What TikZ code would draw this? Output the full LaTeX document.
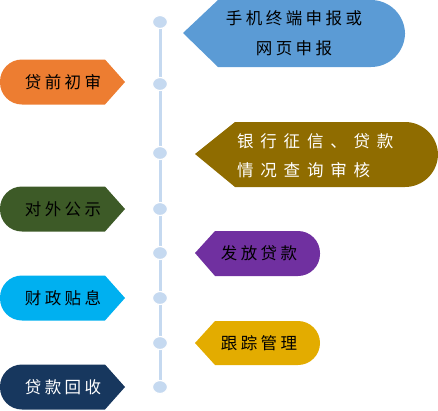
\documentclass[tikz,border=0pt]{standalone}
\usepackage{fontspec}
\newfontfamily\cjk[LetterSpace=21]{Noto Sans CJK SC}
\newfontfamily\cjkwide[LetterSpace=41]{Noto Sans CJK SC}
\definecolor{cBlue}{HTML}{5B9BD5}
\definecolor{cOrange}{HTML}{ED7D31}
\definecolor{cBrown}{HTML}{8F6C00}
\definecolor{cGreen}{HTML}{3D5A27}
\definecolor{cPurple}{HTML}{7030A0}
\definecolor{cCyan}{HTML}{00B0F0}
\definecolor{cGold}{HTML}{E3AC00}
\definecolor{cNavy}{HTML}{17375E}
\definecolor{cDot}{HTML}{C5D9F0}
\tikzset{
  lbl/.style={font=\fontsize{16.5pt}{30pt}\selectfont\cjk, inner sep=0pt, align=center},
  dotnode/.style={ellipse, fill=cDot, draw=white, line width=1.2pt, minimum width=15pt, minimum height=13pt, inner sep=0pt},
}
\usetikzlibrary{shapes.geometric}
\begin{document}
\begin{tikzpicture}[x=1pt,y=-1pt]
\useasboundingbox (0,0) rectangle (438,410);
% timeline
\coordinate (ltop) at (160,22);
\coordinate (lbot) at (160,387);
\draw[cDot, line width=3pt] (ltop) -- (lbot);
\foreach \y/\n in {22/d1,84/d2,153/d3,209/d4,253/d5,298/d6,343/d7,387/d8}
  \node[dotnode] (\n) at (160,\y) {};
% left shapes
\foreach \c/\col/\txt/\tc/\n in {82/cOrange/贷前初审/black/l1, 209/cGreen/对外公示/black/l2, 298/cCyan/财政贴息/black/l3, 387/cNavy/贷款回收/white/l4}{
  \fill[\col] (125,\c) -- (105,\c-22.5) [rounded corners=22pt] -- (0,\c-22.5) -- (0,\c+22.5) [sharp corners] -- (105,\c+22.5) -- cycle;
  \node[lbl, text=\tc] (\n) at (63,\c) {\txt};
}
% right shapes
\fill[cBlue] (183,33) -- (218,0) [rounded corners=34pt] -- (405,0) -- (405,67) [sharp corners] -- (218,67) -- cycle;
\node[lbl] (r1) at (294,33) {手机终端申报或\\网页申报};
\fill[cBrown] (195,154) -- (235,122) [rounded corners=33pt] -- (438,122) -- (438,187) [sharp corners] -- (235,187) -- cycle;
\node[lbl, font=\fontsize{16.5pt}{29pt}\selectfont\cjkwide, align=left, anchor=west, text=white] (r2) at (237,156) {银行征信、贷款\\情况查询审核};
\fill[cPurple] (195,253) -- (215,231) [rounded corners=22pt] -- (320,231) -- (320,276) [sharp corners] -- (215,276) -- cycle;
\node[lbl] (r3) at (259,253) {发放贷款};
\fill[cGold] (195,343) -- (215,321) [rounded corners=22pt] -- (320,321) -- (320,365) [sharp corners] -- (215,365) -- cycle;
\node[lbl] (r4) at (259,343) {跟踪管理};
\end{tikzpicture}
\end{document}
